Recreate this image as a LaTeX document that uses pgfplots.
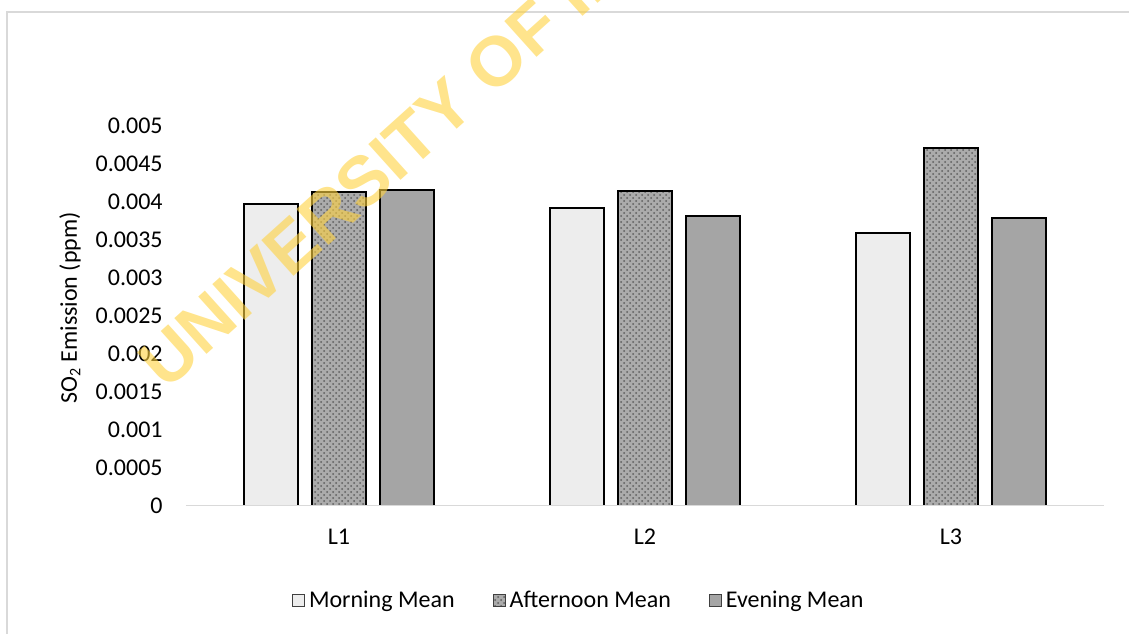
\documentclass[border=0pt]{standalone}
\usepackage{pgfplots}
\pgfplotsset{compat=1.18}
\usepackage{fontspec}
\setmainfont{Carlito}
\newfontfamily\wmfont{Liberation Sans}
\usetikzlibrary{patterns}
\definecolor{morn}{HTML}{EDEDED}
\definecolor{aft}{HTML}{ABABAB}
\definecolor{aftdots}{HTML}{5E5E5E}
\definecolor{eve}{HTML}{A5A5A5}
\definecolor{framegray}{HTML}{D9D9D9}
\definecolor{wm}{HTML}{FFD23F}
\begin{document}
\begin{tikzpicture}
\useasboundingbox (-93pt,-63.75pt) rectangle (471.5pt,252.75pt);
\draw[color=framegray, line width=1pt] (-89.5pt,-70pt) -- (-89.5pt,246.75pt) -- (480pt,246.75pt);
\begin{axis}[
  at={(0pt,0pt)}, anchor=south west,
  scale only axis, width=459pt, height=190pt,
  xmin=-0.5, xmax=2.5, ymin=0, ymax=0.005,
  ybar=6.85pt, bar width=27pt,
  axis on top,
  axis x line*=bottom, axis y line*=left,
  x axis line style={-, draw=framegray, line width=0.75pt},
  y axis line style={draw=none},
  major tick length=0pt,
  xtick={0,1,2}, xticklabels={L1,L2,L3},
  ytick={0,0.0005,0.001,0.0015,0.002,0.0025,0.003,0.0035,0.004,0.0045,0.005},
  yticklabels={0,0.0005,0.001,0.0015,0.002,0.0025,0.003,0.0035,0.004,0.0045,0.005},
  scaled y ticks=false,
  tick label style={font=\fontsize{12}{14}\selectfont},
  yticklabel style={anchor=east, inner sep=0pt, xshift=-11.5pt},
  xticklabel style={anchor=north, inner sep=0pt, yshift=-11.75pt},
  ylabel={SO\textsubscript{2} Emission (ppm)},
  ylabel style={at={(axis description cs:-0.1264,0.52)}, anchor=center, font=\fontsize{12}{14}\selectfont},
  legend style={draw=none, at={(axis description cs:0.429,-0.2513)}, anchor=center,
    font=\fontsize{12}{14}\selectfont, legend columns=3,
    /tikz/every even column/.append style={column sep=17pt}},
  legend image code/.code={\draw[#1, draw=black!75, line width=0.5pt] (0pt,-3pt) rectangle (6pt,3pt);},
]
\addplot[draw=black, line width=1pt, fill=morn] coordinates {(0,0.003971) (1,0.003918) (2,0.003589)};
\addplot[draw=black, line width=1pt, fill=aft, postaction={pattern=crosshatch dots, pattern color=aftdots}] coordinates {(0,0.004129) (1,0.004138) (2,0.004700)};
\addplot[draw=black, line width=1pt, fill=eve] coordinates {(0,0.004155) (1,0.003809) (2,0.003779)};
\legend{Morning Mean, Afternoon Mean, Evening Mean}
\end{axis}
\node[font=\wmfont\bfseries\fontsize{35}{35}\selectfont, text=wm, text opacity=0.6, rotate=42, anchor=base west, inner sep=0pt] at (-10pt,57pt) {UNIVERSITY OF IBADAN};
\end{tikzpicture}
\end{document}
